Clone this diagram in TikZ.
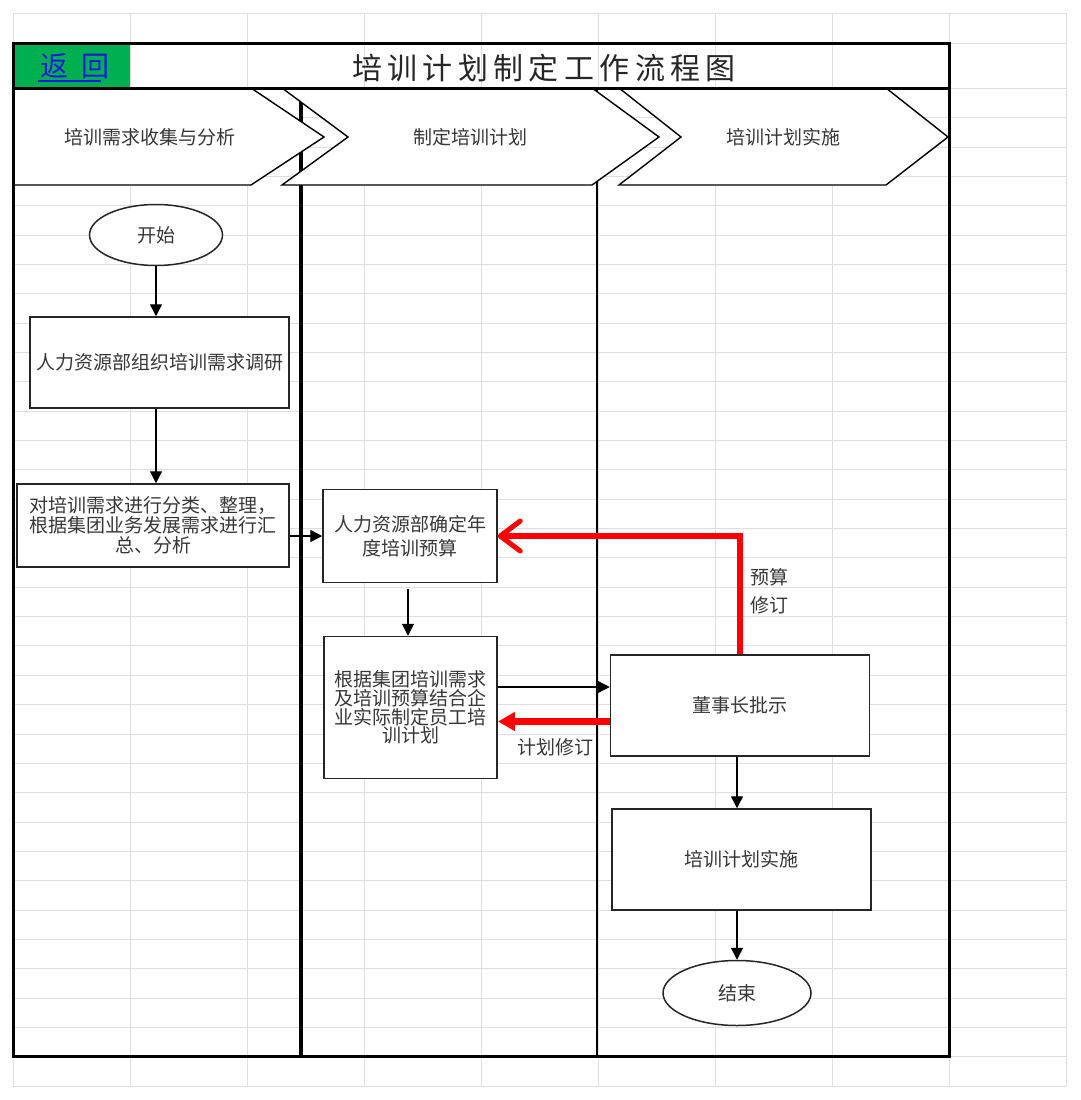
\documentclass[tikz,border=0pt]{standalone}
\usepackage{fontspec}
\setmainfont{Liberation Sans}
\newfontfamily\cjk{Noto Sans CJK SC}
\usetikzlibrary{arrows.meta,shapes.geometric,calc}
\definecolor{gridgray}{RGB}{222,222,222}
\definecolor{txtgray}{RGB}{55,55,55}
\definecolor{xlgreen}{RGB}{0,176,80}
\definecolor{linkblue}{RGB}{25,25,225}
\definecolor{redline}{RGB}{255,0,0}
\begin{document}
\begin{tikzpicture}[x=1pt,y=-1pt,
  gridline/.style={draw=gridgray,line width=1pt},
  frameline/.style={draw=black,line width=3pt},
  chevron/.style={draw=black,fill=white,line width=1.4pt,line join=miter},
  headtext/.style={text=txtgray,font=\cjk\fontsize{19}{22}\selectfont,inner sep=0pt},
  box/.style={draw=black!85,fill=white,line width=1.5pt,text=txtgray,align=center,
              font=\cjk\fontsize{19}{24}\selectfont,inner sep=0pt},
  term/.style={draw=black!85,fill=white,ellipse,line width=1.5pt,text=txtgray,
              font=\cjk\fontsize{19}{24}\selectfont,inner sep=0pt},
  flow/.style={draw=black,line width=1.4pt,-{Triangle[length=12pt,width=12pt]}},
  redflow/.style={draw=redline,line width=6.5pt},
  lbl/.style={text=txtgray,font=\cjk\fontsize{19}{22}\selectfont,inner sep=0pt}
]
\useasboundingbox (0,0) rectangle (1080,1100);
\fill[white] (0,0) rectangle (1080,1100);

% spreadsheet grid
\foreach \i in {0,...,9} \draw[gridline] ({13+117*\i},13.3) -- ({13+117*\i},1086.2);
\foreach \yy in {13.3,43.3} \draw[gridline] (13,\yy) -- (1066,\yy);
\foreach \k in {0,...,34} \draw[gridline] (13,{88.3+29.35*\k}) -- (1066,{88.3+29.35*\k});

% green cell and title
\fill[xlgreen] (13,43) rectangle (130,88);
\node[text=linkblue,font=\cjk\fontsize{28}{28}\selectfont\addfontfeature{LetterSpace=45},inner sep=0pt] (back) at (75,66) {返回};
\draw[linkblue,line width=1.6pt] ([xshift=-3pt,yshift=-2pt]back.south west) -- ([xshift=-9pt,yshift=-2pt]back.south east);
\node[text=black!85,font=\cjk\fontsize{30}{30}\selectfont\addfontfeature{LetterSpace=18},inner sep=0pt] (title) at (544,68) {培训计划制定工作流程图};

% lane dividers
\draw[line width=4pt] (301,88) -- (301,1056);
\draw[line width=2.5pt] (597,88) -- (597,1056);

% lane header chevrons
\draw[chevron] (13,88) -- (251,88) -- (324,137) -- (251,185) -- (13,185) -- cycle;
\draw[chevron] (282,88) -- (592,88) -- (659,137) -- (592,185) -- (282,185) -- (348,137) -- cycle;
\draw[chevron] (619,88) -- (886,88) -- (948,137) -- (886,185) -- (619,185) -- (681,137) -- cycle;
\node[headtext] (h1) at (150,137) {培训需求收集与分析};
\node[headtext] (h2) at (470,137) {制定培训计划};
\node[headtext] (h3) at (783,137) {培训计划实施};

% frame
\draw[frameline] (13,43) rectangle (949,1056);
\draw[frameline] (13,88) -- (949,88);

% nodes
\node[term,minimum width=133pt,minimum height=61pt] (start) at (156,235) {开始};
\node[box,minimum width=259pt,minimum height=91pt] (b1) at (159.5,362.5) {人力资源部组织培训需求调研};
\node[box,minimum width=272pt,minimum height=83pt,font=\cjk\fontsize{19}{20}\selectfont] (b2) at (153,525.5)
  {\raisebox{3pt}{\parbox{272pt}{\centering 对培训需求进行分类、整理，\\根据集团业务发展需求进行汇\\总、分析}}};
\node[box,minimum width=174pt,minimum height=93pt] (b3) at (410,536) {人力资源部确定年\\度培训预算};
\node[box,minimum width=173pt,minimum height=142pt,font=\cjk\fontsize{19}{17.3}\selectfont] (b4) at (410.7,707.5)
  {\raisebox{5pt}{\parbox{173pt}{\centering 根据集团培训需求\\及培训预算结合企\\业实际制定员工培\\训计划}}};
\node[box,minimum width=259pt,minimum height=101pt] (b5) at (740,705.5) {董事长批示};
\node[box,minimum width=259pt,minimum height=101pt] (b6) at (741.5,859.5) {培训计划实施};
\node[term,minimum width=148pt,minimum height=65pt] (end) at (737,993) {结束};

% black connectors
\draw[flow] (start.south) -- (start.south |- b1.north);
\draw[flow] (b1.south -| start.south) -- (start.south |- b2.north);
\draw[flow] (b3.west -| b2.east) -- (b3.west);
\draw[flow] ([xshift=-2pt,yshift=-6pt]b3.south) -- ([xshift=-2pt]b3.south |- b4.north);
\draw[flow] ([yshift=20.5pt]b4.east) -- ([yshift=20.5pt]b4.east -| b5.west);
\draw[flow] ([xshift=-3pt]b5.south) -- ([xshift=-3pt]b5.south |- b6.north);
\draw[flow] (end.north |- b6.south) -- (end.north);

% red connectors
\draw[redflow,line join=miter,-{Straight Barb[length=20pt,width=30pt,line width=5pt,round]}]
  (b5.north) |- (b3.east);
\draw[redflow,-{Triangle[length=17pt,width=18pt]}]
  ([yshift=-14pt]b4.east -| b5.west) -- ([yshift=-14pt]b4.east);

% labels
\node[lbl] (l1) at (555,747) {计划修订};
\node[lbl,anchor=west] (l2) at (750,577) {预算};
\node[lbl,anchor=west] (l3) at (750,605) {修订};
\end{tikzpicture}
\end{document}
